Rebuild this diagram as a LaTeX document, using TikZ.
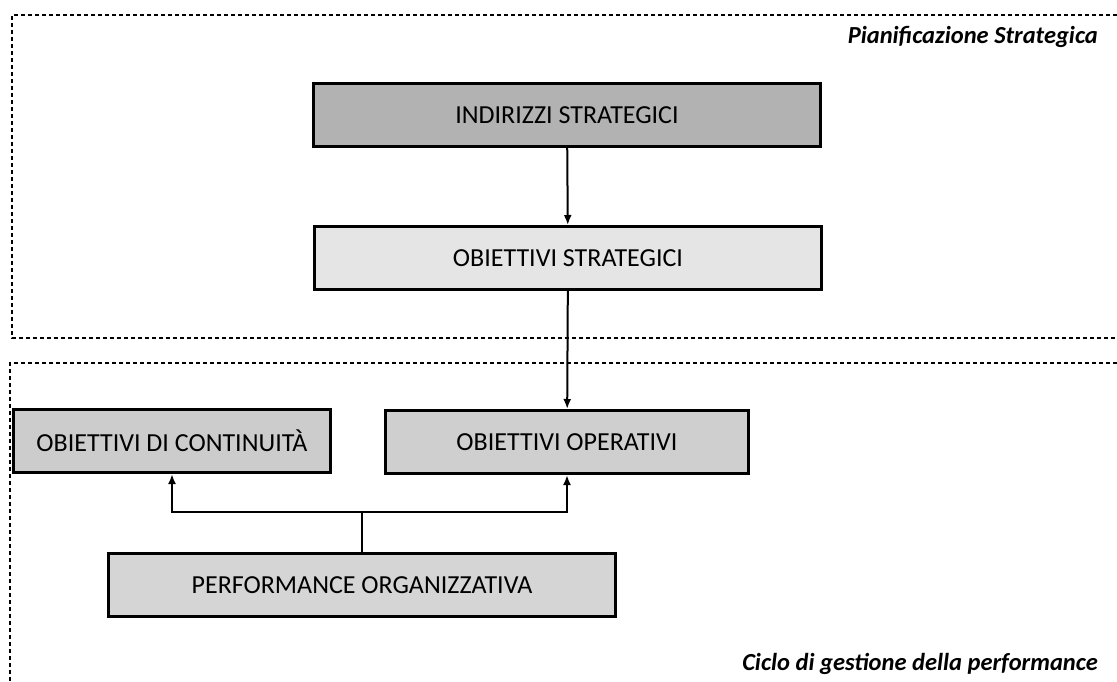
\documentclass[tikz,border=0pt]{standalone}
\usepackage{fontspec}
\setmainfont{Carlito}
\usetikzlibrary{arrows.meta}

\begin{document}
\begin{tikzpicture}[x=1pt, y=-1pt, >={Latex[length=10pt,width=8pt]},
	every node/.style={font=\fontsize{26}{30}\selectfont},
	box/.style={draw, line width=3pt, minimum height=63pt, inner sep=0pt},
	frame/.style={line width=2pt, dash pattern=on 4pt off 3pt},
	areatitle/.style={anchor=east, inner sep=0pt, font=\fontsize{24.5}{28}\selectfont\bfseries\itshape},
	link/.style={line width=2pt}]
	\fill[white] (0,0) rectangle (1117,681);
	\useasboundingbox (0,0) rectangle (1117,681);
	\draw[frame] (1117,15) -- (12,15) -- (12,338) -- (1117,338);
	\draw[frame] (1117,363) -- (10,363) -- (10,681);
	\node[areatitle] (plan) at (1098,37) {Pianificazione Strategica};
	\node[areatitle] (ciclo) at (1098,664) {Ciclo di gestione della performance};
	\node[box, fill=gray!60, minimum width=507pt] (indirizzi) at (567,115) {INDIRIZZI STRATEGICI};
	\node[box, fill=gray!20, minimum width=507pt] (obstrat) at (568,258) {OBIETTIVI STRATEGICI};
	\node[box, fill=gray!40, minimum width=317pt] (obcont) at (172,441) {OBIETTIVI DI CONTINUITÀ};
	\node[box, fill=gray!38, minimum width=363pt] (oboper) at (567,442) {OBIETTIVI OPERATIVI};
	\node[box, fill=gray!33, minimum width=507pt] (perf) at (362,585) {PERFORMANCE ORGANIZZATIVA};
	\coordinate (split) at (perf.north |- 0,512);
	\draw[link, ->] (indirizzi) -- (obstrat);
	\draw[link, ->] (obstrat) -- (oboper);
	\draw[link] (perf) -- (split);
	\draw[link, ->] (split) -| (obcont);
	\draw[link, ->] (split) -| (oboper);
\end{tikzpicture}
\end{document}
